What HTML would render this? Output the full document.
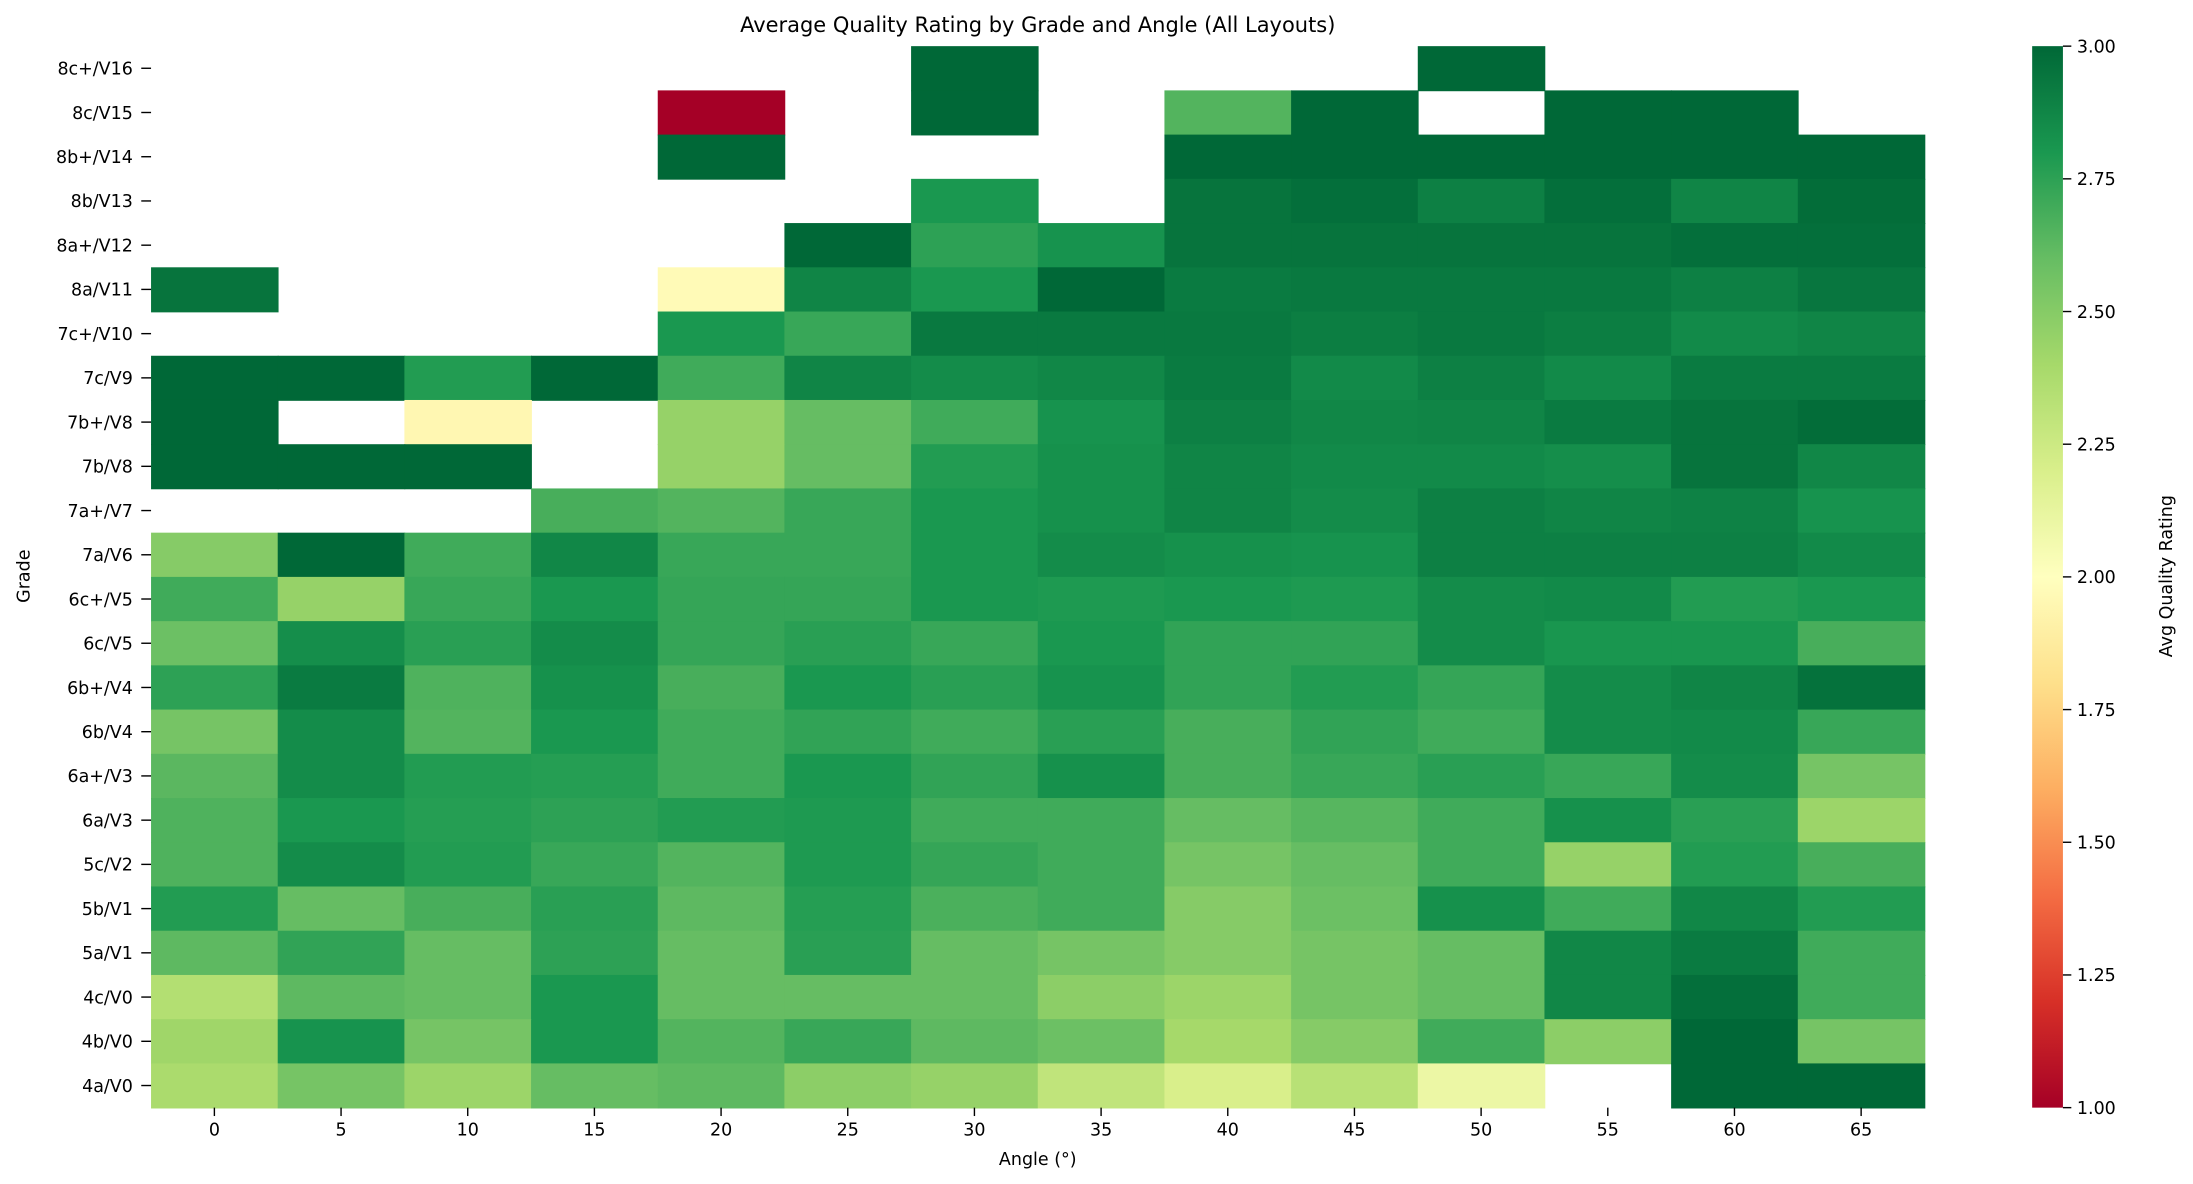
<!DOCTYPE html>
<html><head><meta charset="utf-8"><style>
html,body{margin:0;padding:0;background:#fff;}
svg{display:block;font-family:"DejaVu Sans","Liberation Sans",sans-serif;}
</style></head><body>
<svg id="s" width="2193" height="1184" viewBox="0 0 1568 846.6" preserveAspectRatio="none" xmlns="http://www.w3.org/2000/svg">
<defs><linearGradient id="cb" x1="0" y1="1" x2="0" y2="0">
<stop offset="0" stop-color="#a50026"/><stop offset="0.1" stop-color="#d73027"/><stop offset="0.2" stop-color="#f46d43"/><stop offset="0.3" stop-color="#fdae61"/><stop offset="0.4" stop-color="#fee08b"/><stop offset="0.5" stop-color="#ffffbf"/><stop offset="0.6" stop-color="#d9ef8b"/><stop offset="0.7" stop-color="#a6d96a"/><stop offset="0.8" stop-color="#66bd63"/><stop offset="0.9" stop-color="#1a9850"/><stop offset="1" stop-color="#006837"/>
</linearGradient></defs>
</svg>
<script>
const stops=["a50026","d73027","f46d43","fdae61","fee08b","ffffbf","d9ef8b","a6d96a","66bd63","1a9850","006837"].map(h=>[parseInt(h.slice(0,2),16),parseInt(h.slice(2,4),16),parseInt(h.slice(4,6),16)]);
function col(v){let t=Math.max(0,Math.min(1,(v-1)/2))*10;let i=Math.min(9,Math.floor(t));let f=t-i;let a=stops[i],b=stops[i+1];return `rgb(${a.map((x,k)=>Math.round(x+(b[k]-x)*f)).join(",")})`;}
const N=null;
const rows=[
["8c+/V16",[N,N,N,N,N,N,3,N,N,N,3,N,N,N]],
["8c/V15",[N,N,N,N,1.0,N,3,N,2.65,3,N,3,3,N]],
["8b+/V14",[N,N,N,N,3,N,N,N,3,3,3,3,3,3]],
["8b/V13",[N,N,N,N,N,N,2.8,N,2.95,2.97,2.9,2.97,2.88,2.98]],
["8a+/V12",[N,N,N,N,N,3,2.75,2.82,2.95,2.95,2.95,2.95,2.97,2.97]],
["8a/V11",[2.95,N,N,N,1.97,2.88,2.8,3,2.92,2.93,2.93,2.93,2.9,2.94]],
["7c+/V10",[N,N,N,N,2.8,2.72,2.93,2.93,2.93,2.91,2.93,2.91,2.86,2.88]],
["7c/V9",[3,3,2.78,3,2.7,2.88,2.85,2.87,2.92,2.86,2.9,2.86,2.92,2.92]],
["7b+/V8",[3,N,1.95,N,2.45,2.6,2.7,2.82,2.9,2.87,2.88,2.92,2.95,2.98]],
["7b/V8",[3,3,3,N,2.45,2.6,2.78,2.83,2.88,2.86,2.86,2.84,2.95,2.87]],
["7a+/V7",[N,N,N,2.68,2.65,2.72,2.8,2.83,2.88,2.85,2.9,2.88,2.89,2.82]],
["7a/V6",[2.5,3,2.7,2.87,2.72,2.72,2.8,2.85,2.83,2.82,2.9,2.9,2.9,2.86]],
["6c+/V5",[2.7,2.45,2.72,2.8,2.73,2.73,2.8,2.79,2.8,2.79,2.85,2.86,2.78,2.8]],
["6c/V5",[2.58,2.84,2.76,2.85,2.73,2.76,2.72,2.8,2.74,2.74,2.85,2.81,2.81,2.68]],
["6b+/V4",[2.75,2.92,2.66,2.83,2.68,2.8,2.76,2.82,2.74,2.78,2.73,2.85,2.88,2.96]],
["6b/V4",[2.55,2.85,2.65,2.8,2.7,2.74,2.7,2.76,2.68,2.74,2.7,2.85,2.86,2.72]],
["6a+/V3",[2.63,2.85,2.78,2.77,2.7,2.8,2.74,2.83,2.68,2.72,2.76,2.72,2.85,2.55]],
["6a/V3",[2.66,2.8,2.77,2.75,2.78,2.79,2.7,2.7,2.6,2.64,2.7,2.83,2.76,2.43]],
["5c/V2",[2.66,2.85,2.78,2.72,2.65,2.79,2.73,2.7,2.55,2.6,2.7,2.45,2.78,2.68]],
["5b/V1",[2.78,2.6,2.68,2.76,2.62,2.77,2.67,2.7,2.5,2.58,2.83,2.7,2.87,2.78]],
["5a/V1",[2.62,2.74,2.6,2.75,2.6,2.76,2.6,2.55,2.5,2.55,2.6,2.87,2.92,2.7]],
["4c/V0",[2.35,2.62,2.6,2.8,2.6,2.6,2.6,2.48,2.43,2.55,2.6,2.87,2.97,2.7]],
["4b/V0",[2.42,2.82,2.55,2.8,2.65,2.72,2.62,2.58,2.4,2.5,2.7,2.48,3,2.55]],
["4a/V0",[2.38,2.55,2.43,2.6,2.62,2.48,2.45,2.3,2.2,2.33,2.1,N,3,3]]];
const X0=108,X1=1376,Y0=33,Y1=792,cw=(X1-X0)/14,rh=(Y1-Y0)/24;
let o="";
rows.forEach((r,i)=>{const y=Y0+i*rh;
 r[1].forEach((v,j)=>{if(v!==null)o+=`<rect x="${X0+j*cw}" y="${y}" width="${cw+0.6}" height="${rh+0.6}" fill="${col(v)}"/>`;});
 const yc=y+rh/2;
 o+=`<line x1="101" y1="${yc}" x2="108" y2="${yc}" stroke="#000" stroke-width="1"/>`;
 o+=`<text x="95" y="${yc+4.5}" font-size="12.5" text-anchor="end">${r[0]}</text>`;
});
for(let j=0;j<14;j++){const xc=X0+(j+0.5)*cw;
 o+=`<line x1="${xc}" y1="792" x2="${xc}" y2="798" stroke="#000" stroke-width="1"/>`;
 o+=`<text x="${xc}" y="812" font-size="12.5" text-anchor="middle">${j*5}</text>`;}
o+=`<text x="742" y="833" font-size="12.5" text-anchor="middle">Angle (°)</text>`;
o+=`<text transform="translate(21,412) rotate(-90)" font-size="12.5" text-anchor="middle">Grade</text>`;
o+=`<text x="742" y="23" font-size="15" text-anchor="middle">Average Quality Rating by Grade and Angle (All Layouts)</text>`;
o+=`<rect x="1453" y="33" width="22" height="759" fill="url(#cb)"/>`;
const lab=["3.00","2.75","2.50","2.25","2.00","1.75","1.50","1.25","1.00"];
lab.forEach((l,k)=>{const y=33+k*759/8;o+=`<line x1="1475" y1="${y}" x2="1481" y2="${y}" stroke="#000" stroke-width="1"/><text x="1485" y="${y+4.5}" font-size="12.5">${l}</text>`;});
o+=`<text transform="translate(1553,412) rotate(-90)" font-size="12.5" text-anchor="middle">Avg Quality Rating</text>`;
document.getElementById("s").insertAdjacentHTML("beforeend",o);
</script>
</body></html>
